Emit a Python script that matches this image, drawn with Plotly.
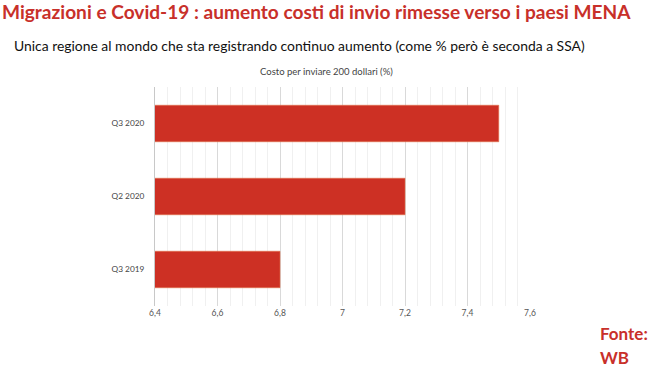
import plotly.graph_objects as go

categories = ["Q3 2019", "Q2 2020", "Q3 2020"]
values = [6.8, 7.2, 7.5]
tick_vals = [6.4, 6.6, 6.8, 7.0, 7.2, 7.4, 7.6]
tick_text = ["6,4", "6,6", "6,8", "7", "7,2", "7,4", "7,6"]

W, H = 654, 367
L, R, T, B = 155, 124, 87, 61
pw, ph = W - L - R, H - T - B

def px(x):
    return (x - L) / pw

def py(y):
    return 1 - (y - T) / ph

fig = go.Figure(go.Bar(
    y=categories, x=values, orientation="h",
    marker=dict(color="#CD3024", line=dict(color="#E0704A", width=0.6)),
    hoverinfo="skip",
))

fig.update_layout(
    width=W, height=H,
    margin=dict(l=L, r=R, t=T, b=B),
    plot_bgcolor="white", paper_bgcolor="white",
    bargap=0.5,
    showlegend=False,
    font=dict(family="Lato", color="#444"),
    xaxis=dict(
        range=[6.4, 7.6], tickvals=tick_vals, ticktext=tick_text,
        tickfont=dict(size=8.5, color="#555"),
        showgrid=True, gridcolor="#d9d9d9", gridwidth=1,
        minor=dict(dtick=0.04, showgrid=True, gridcolor="#f0f0f0", gridwidth=1),
        zeroline=False, showline=False, ticks="",
    ),
    yaxis=dict(
        tickfont=dict(size=8.3, color="#444"), ticks="",
        showline=True, linecolor="#c8c8c8", linewidth=1,
        ticklabelstandoff=8,
    ),
    annotations=[
        dict(text="<b>Migrazioni e Covid-19 : aumento costi di invio rimesse verso i paesi MENA</b>",
             x=px(0), y=py(12), xref="paper", yref="paper", xanchor="left", yanchor="middle",
             showarrow=False, font=dict(family="Lato", size=19.1, color="#C8302A")),
        dict(text="Unica regione al mondo che sta registrando continuo aumento (come % però è seconda a SSA)",
             x=px(12), y=py(45), xref="paper", yref="paper", xanchor="left", yanchor="middle",
             showarrow=False, font=dict(family="Lato", size=13.9, color="#111")),
        dict(text="Costo per inviare 200 dollari (%)",
             x=px(326), y=py(72), xref="paper", yref="paper", xanchor="center", yanchor="middle",
             showarrow=False, font=dict(family="Lato", size=9.5, color="#444")),
        dict(text="<b>Fonte:</b>",
             x=px(598), y=py(333), xref="paper", yref="paper", xanchor="left", yanchor="middle",
             showarrow=False, font=dict(family="Lato", size=17, color="#C8302A")),
        dict(text="<b>WB</b>",
             x=px(598), y=py(357), xref="paper", yref="paper", xanchor="left", yanchor="middle",
             showarrow=False, font=dict(family="Lato", size=17, color="#C8302A")),
    ],
)

fig.write_html("out.html", config={"displayModeBar": False},
               post_script="document.body.style.margin='0';document.body.style.overflow='hidden';")
